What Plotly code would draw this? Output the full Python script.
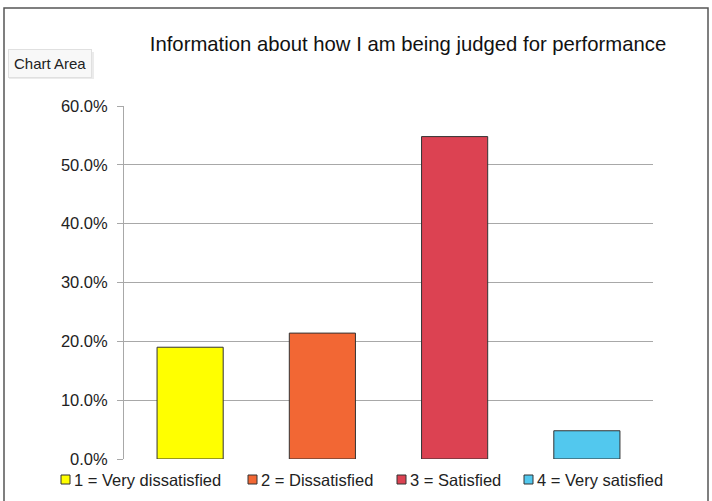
import plotly.graph_objects as go

categories = ["1 = Very dissatisfied", "2 = Dissatisfied", "3 = Satisfied", "4 = Very satisfied"]
values = [0.190, 0.214, 0.548, 0.048]
colors = ["#FFFF00", "#F26734", "#DC4252", "#52C8EE"]
title_text = "Information about how I am being judged for performance"

W, H = 712, 501
L, R, T, B = 124, 59, 106, 42
PW, PH = W - L - R, H - T - B
FONT = "Liberation Sans, Arial, sans-serif"


def px_x(p):
    return (p - L) / PW


def px_y(p):
    return (H - B - p) / PH


fig = go.Figure()
fig.add_trace(go.Bar(
    x=categories, y=values, width=0.5,
    marker=dict(color=colors, line=dict(color="#333333", width=1)),
    showlegend=False, hoverinfo="skip",
))

# manual legend
leg_box_x = [61, 248, 397, 524]
shapes = []
annotations = []
for i, (name, col) in enumerate(zip(categories, colors)):
    x0 = leg_box_x[i]
    shapes.append(dict(type="rect", xref="paper", yref="paper",
                       x0=px_x(x0), x1=px_x(x0 + 9), y0=px_y(484), y1=px_y(475),
                       fillcolor=col, line=dict(color="#333333", width=1)))
    annotations.append(dict(text=name, xref="paper", yref="paper",
                            x=px_x(x0 + 11), y=px_y(479.5), xanchor="left", yanchor="middle",
                            showarrow=False, font=dict(size=16.5, color="#222222", family=FONT)))

# chart frame
shapes.append(dict(type="rect", xref="paper", yref="paper",
                   x0=px_x(4), x1=px_x(708), y0=px_y(520), y1=px_y(8),
                   line=dict(color="#555555", width=1.5), fillcolor="rgba(0,0,0,0)", layer="below"))

# "Chart Area" tooltip shadow + box
shapes.append(dict(type="rect", xref="paper", yref="paper",
                   x0=px_x(9), x1=px_x(94), y0=px_y(79), y1=px_y(52),
                   fillcolor="rgba(0,0,0,0.08)", line=dict(width=0)))
annotations.append(dict(text="Chart Area", xref="paper", yref="paper",
                        x=px_x(49.5), y=px_y(63.5), xanchor="center", yanchor="middle",
                        showarrow=False, bgcolor="#F8F8F8", bordercolor="#E0E0E0",
                        borderwidth=1, borderpad=5,
                        font=dict(size=15, color="#222222", family=FONT)))

fig.update_layout(
    width=W, height=H,
    margin=dict(l=L, r=R, t=T, b=B),
    paper_bgcolor="white", plot_bgcolor="white",
    title=dict(text=title_text, x=408 / W, xref="container", xanchor="center",
               y=1 - 44 / H, yref="container", yanchor="middle",
               font=dict(size=20.3, color="#111111", family=FONT)),
    shapes=shapes,
    annotations=annotations,
    font=dict(family=FONT),
)
fig.update_xaxes(showticklabels=False, showgrid=False, zeroline=False, showline=False,
                 ticks="", range=[-0.5, 3.5])
fig.update_yaxes(range=[0, 0.6], dtick=0.1, tickformat=".1%",
                 showgrid=True, gridcolor="#A8A8A8", gridwidth=1,
                 showline=True, linecolor="#A8A8A8", linewidth=1,
                 ticks="outside", ticklen=6, tickcolor="#A8A8A8",
                 ticklabelstandoff=6,
                 zeroline=False,
                 tickfont=dict(size=16.5, color="#222222", family=FONT))

fig.write_html("out.html")
